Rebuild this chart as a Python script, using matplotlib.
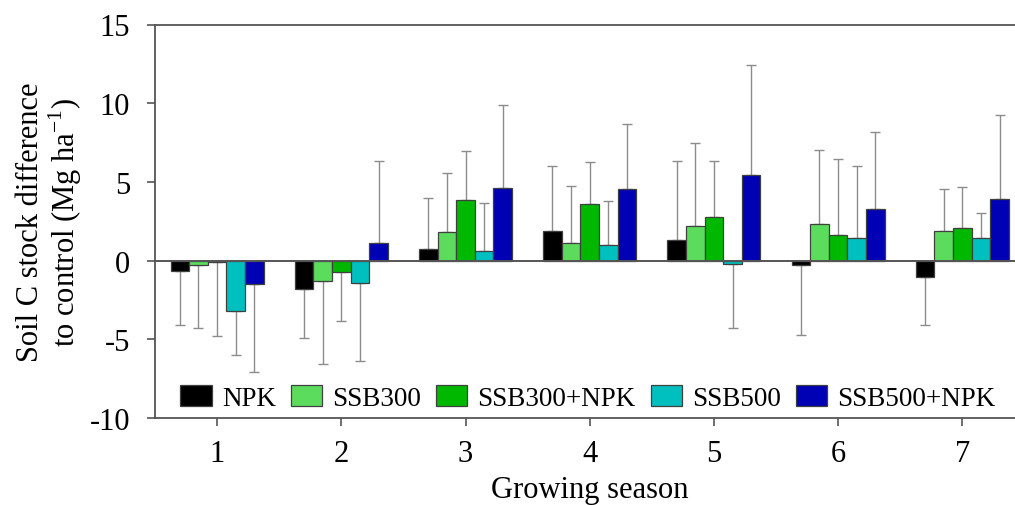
import numpy as np
import matplotlib
matplotlib.use("Agg")
import matplotlib.pyplot as plt

plt.rcParams['font.family'] = ['Liberation Serif', 'DejaVu Serif']
plt.rcParams['mathtext.fontset'] = 'custom'
plt.rcParams['mathtext.rm'] = 'Liberation Serif'
plt.rcParams['axes.unicode_minus'] = False

# growing seasons
seasons = [1, 2, 3, 4, 5, 6, 7]
treatments = ['NPK', 'SSB300', 'SSB300+NPK', 'SSB500', 'SSB500+NPK']

# mean difference to control (Mg ha-1)
npk = [-0.66, -1.8, 0.74, 1.9, 1.34, -0.25, -1.06]
ssb300 = [-0.25, -1.3, 1.83, 1.13, 2.2, 2.33, 1.87]
ssb300_npk = [-0.12, -0.74, 3.85, 3.57, 2.78, 1.6, 2.04]
ssb500 = [-3.2, -1.43, 0.63, 1.02, -0.23, 1.43, 1.44]
ssb500_npk = [-1.5, 1.1, 4.6, 4.52, 5.43, 3.26, 3.9]

# error (one-sided, drawn away from zero)
npk_err = [3.44, 3.1, 3.26, 4.08, 4.96, 4.45, 3.01]
ssb300_err = [4.05, 5.3, 3.73, 3.64, 5.25, 4.67, 2.68]
ssb300_npk_err = [4.68, 3.12, 3.1, 2.7, 3.52, 4.87, 2.64]
ssb500_err = [2.8, 4.93, 3.0, 2.78, 4.07, 4.57, 1.56]
ssb500_npk_err = [5.6, 5.25, 5.26, 4.14, 7.02, 4.94, 5.35]

means = [npk, ssb300, ssb300_npk, ssb500, ssb500_npk]
errs = [npk_err, ssb300_err, ssb300_npk_err, ssb500_err, ssb500_npk_err]
colors = ['#000000', '#5cdc5c', '#00b800', '#00bfbf', '#0000b4']

W, H = 1015, 506
fig = plt.figure(figsize=(W / 100, H / 100), dpi=100)
ax_w = (1024.4 - 155) / W
ax = fig.add_axes([155 / W, 1 - 419 / H, ax_w, (419 - 25.5) / H])

x = np.array(seasons, dtype=float)
bw = 0.15
for i, (m, e, c, lab) in enumerate(zip(means, errs, colors, treatments)):
    m = np.array(m)
    e = np.array(e)
    pos = x + (i - 2) * bw
    lower = np.where(m < 0, e, 0)
    upper = np.where(m >= 0, e, 0)
    ax.errorbar(pos, m, yerr=[lower, upper], fmt='none', ecolor='#8c8c8c',
                elinewidth=1.0, capsize=3.5, capthick=1.0, zorder=1)
    ax.bar(pos, m, width=bw, color=c, edgecolor='#404040', linewidth=0.9,
           label=lab, zorder=2)

ax.axhline(0, color='#555555', linewidth=1.4, zorder=3)

ax.set_xlim(0.5, 7.5)
ax.set_ylim(-10, 15)
ax.set_xticks(seasons)
ax.set_yticks([-10, -5, 0, 5, 10, 15])

for s in ['left', 'bottom', 'top', 'right']:
    ax.spines[s].set_color('#555555')
    ax.spines[s].set_linewidth(1.3)

ax.tick_params(axis='y', direction='out', length=6, width=1.2, color='#555555',
               labelsize=22, pad=12)
ax.tick_params(axis='x', direction='out', length=6, width=1.2, color='#555555',
               labelsize=22, pad=9)

ax.set_xlabel('Growing season', fontsize=22, labelpad=5)
ax.set_ylabel('Soil C stock difference\nto control (Mg ha$^{\\mathregular{-1}}$)',
              fontsize=22, labelpad=4, linespacing=1.05)

ax.legend(loc='lower center', bbox_to_anchor=((588 - 155) / (1024.4 - 155), -0.03),
          ncol=5, frameon=False, fontsize=19.5, handlelength=1.15, handleheight=0.85,
          handletextpad=0.38, columnspacing=0.55, borderaxespad=0.3)

fig.savefig('out.png', dpi=100)
